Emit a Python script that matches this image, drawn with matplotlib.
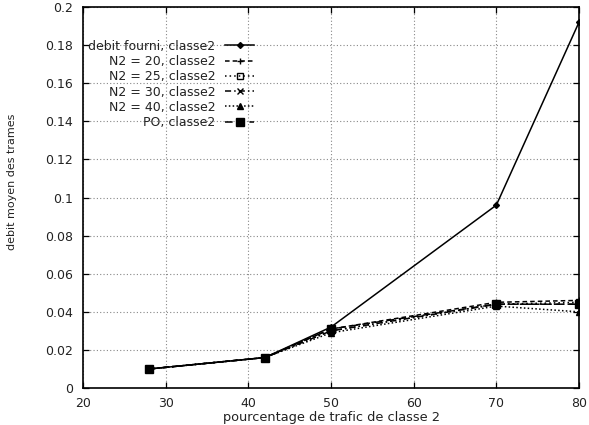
import matplotlib
matplotlib.use("Agg")
import matplotlib.pyplot as plt
from matplotlib.ticker import FuncFormatter

x = [28, 42, 50, 70, 80]
debit_fourni = [0.010, 0.016, 0.032, 0.096, 0.192]
n2_20 = [0.010, 0.016, 0.031, 0.045, 0.046]
n2_25 = [0.010, 0.016, 0.030, 0.044, 0.045]
n2_30 = [0.010, 0.016, 0.030, 0.044, 0.044]
n2_40 = [0.010, 0.016, 0.029, 0.043, 0.040]
po = [0.010, 0.016, 0.031, 0.044, 0.044]

labels = ["debit fourni, classe2", "N2 = 20, classe2", "N2 = 25, classe2",
          "N2 = 30, classe2", "N2 = 40, classe2", "PO, classe2"]
xticks = [20, 30, 40, 50, 60, 70, 80]
yticks = [0, 0.02, 0.04, 0.06, 0.08, 0.1, 0.12, 0.14, 0.16, 0.18, 0.2]

plt.rcParams['font.family'] = ['DejaVu Sans']
plt.rcParams['font.size'] = 9

fig = plt.figure(figsize=(5.89, 4.25), dpi=100)
ax = fig.add_axes([0.141, 0.087, 0.842, 0.8965])

series = [debit_fourni, n2_20, n2_25, n2_30, n2_40, po]
styles = [
    dict(ls='-', marker='D', ms=3, mfc='black'),
    dict(ls=(0, (3, 2)), marker='+', ms=5),
    dict(ls=(0, (1, 2)), marker='s', ms=4.5, mfc='none'),
    dict(ls=(0, (4, 2, 1, 2)), marker='x', ms=4),
    dict(ls=(0, (1, 1.5)), marker='^', ms=4, mfc='black'),
    dict(ls=(0, (5, 3)), marker='s', ms=5.5, mfc='black'),
]
for ys, lab, st in zip(series, labels, styles):
    ax.plot(x, ys, color='black', lw=1.1, mec='black', label=lab, **st)

ax.set_xlim(20, 80)
ax.set_ylim(0, 0.2)
ax.set_xticks(xticks)
ax.set_yticks(yticks)
ax.yaxis.set_major_formatter(FuncFormatter(lambda v, p: '%g' % v))
ax.tick_params(direction='in', top=True, right=True, length=4.5, width=0.9,
               colors='black', labelsize=9, labelcolor='#222222')
ax.tick_params(axis='x', pad=6.5)
ax.tick_params(axis='y', pad=7)
ax.grid(True, color='#888888', ls=(0, (1, 2)), lw=0.8)
for s in ax.spines.values():
    s.set_linewidth(1.2)

ax.set_xlabel("pourcentage de trafic de classe 2", fontsize=9.3, labelpad=0.5,
              color='#222222')
ax.set_ylabel("debit moyen des trames", fontsize=8, color='#222222',
              va='center')
ax.yaxis.set_label_coords(-0.143, 0.54)

leg = ax.legend(loc='upper left', bbox_to_anchor=(0.01, 0.914), frameon=False,
                markerfirst=False, handlelength=2.3, handletextpad=0.8,
                labelspacing=0.18, borderpad=0, borderaxespad=0, fontsize=9)
for t in leg.get_texts():
    t.set_color('#222222')

fig.savefig("out.png", dpi=100)
